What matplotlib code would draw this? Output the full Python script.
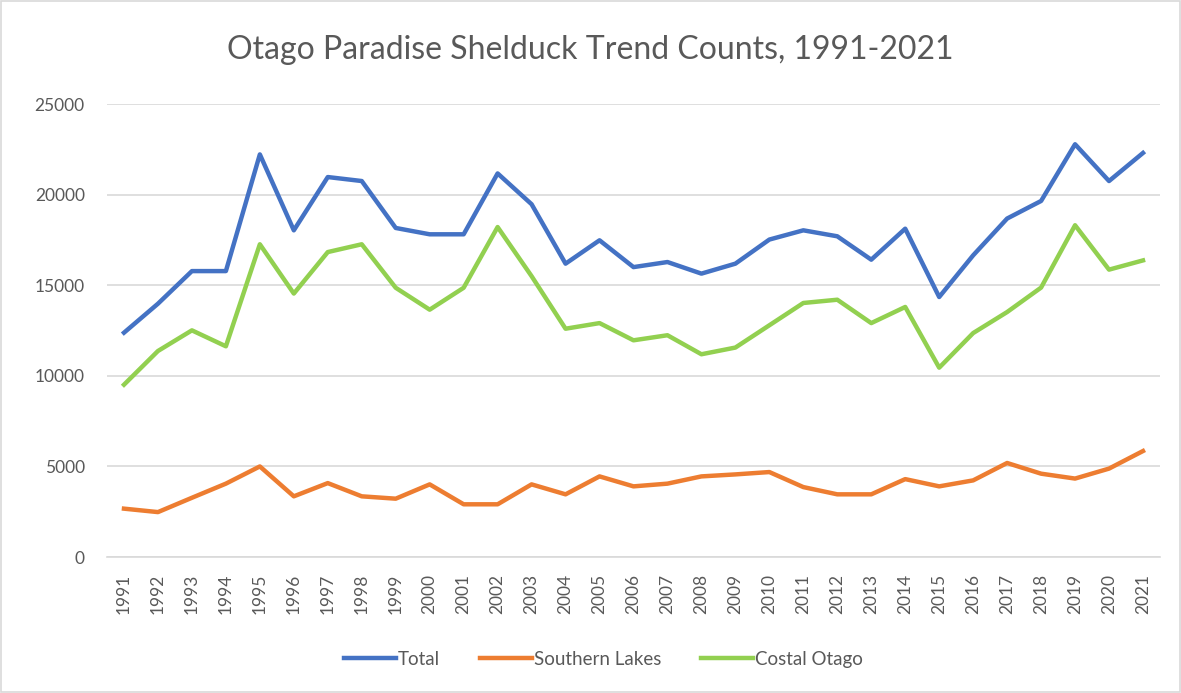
import matplotlib
matplotlib.use("Agg")
import matplotlib.pyplot as plt
from matplotlib.patches import Rectangle

years = list(range(1991, 2022))
total = [12380, 13980, 15780, 15780, 22220, 18030, 20970, 20750, 18160, 17810,
         17810, 21170, 19470, 16190, 17480, 16000, 16280, 15640, 16190, 17520,
         18030, 17700, 16410, 18120, 14350, 16650, 18680, 19650, 22780, 20750, 22300]
southern_lakes = [2670, 2480, 3270, 4050, 5000, 3350, 4080, 3350, 3220, 4010,
                  2910, 2910, 4010, 3460, 4450, 3900, 4050, 4450, 4560, 4690,
                  3860, 3460, 3460, 4300, 3900, 4230, 5190, 4600, 4330, 4880, 5850]
costal_otago = [9510, 11370, 12510, 11630, 17260, 14540, 16830, 17260, 14860, 13650,
                14860, 18210, 15500, 12600, 12910, 11960, 12240, 11190, 11560, 12790,
                14020, 14200, 12910, 13800, 10450, 12360, 13520, 14870, 18310, 15860, 16370]
yticks = [0, 5000, 10000, 15000, 20000, 25000]

plt.rcParams['font.family'] = ['Lato', 'DejaVu Sans']
text_col = '#595959'
grid_col = '#D9D9D9'

fig = plt.figure(figsize=(11.81, 6.93), dpi=100)
ax = fig.add_axes([0.0906, 0.1962, 0.8916, 0.6537])

x = list(range(len(years)))
ax.plot(x, total, color='#4472C4', lw=3.2, label='Total', solid_joinstyle='round')
ax.plot(x, southern_lakes, color='#ED7D31', lw=3.2, label='Southern Lakes', solid_joinstyle='round')
ax.plot(x, costal_otago, color='#92D050', lw=3.2, label='Costal Otago', solid_joinstyle='round')

ax.set_xlim(-0.5, len(years) - 0.5)
ax.set_ylim(0, 25000)
ax.set_yticks(yticks)
ax.set_yticklabels([str(v) for v in yticks])
ax.set_xticks(x)
ax.set_xticklabels([str(y) for y in years], rotation=90)
ax.tick_params(axis='both', length=0, colors=text_col, labelsize=12.5)
ax.tick_params(axis='y', pad=16)
ax.tick_params(axis='x', pad=12)
ax.grid(axis='y', color=grid_col, lw=1.2)
ax.set_axisbelow(True)
for s in ['top', 'right', 'left']:
    ax.spines[s].set_visible(False)
ax.spines['bottom'].set_color(grid_col)
ax.spines['bottom'].set_linewidth(1.2)

fig.text(0.5, 0.928, 'Otago Paradise Shelduck Trend Counts, 1991-2021',
         ha='center', va='center', fontsize=23, color=text_col)

leg = fig.legend(loc='center', bbox_to_anchor=(0.511, 0.049), ncol=3, frameon=False,
                 fontsize=13.5, handlelength=2.8, handletextpad=0.1, columnspacing=2.1)
for t in leg.get_texts():
    t.set_color(text_col)

fig.patches.append(Rectangle((0.001, 0.001), 0.998, 0.997, transform=fig.transFigure,
                             fill=False, edgecolor='#D9D9D9', lw=1.2))

fig.savefig('out.png', dpi=100)
